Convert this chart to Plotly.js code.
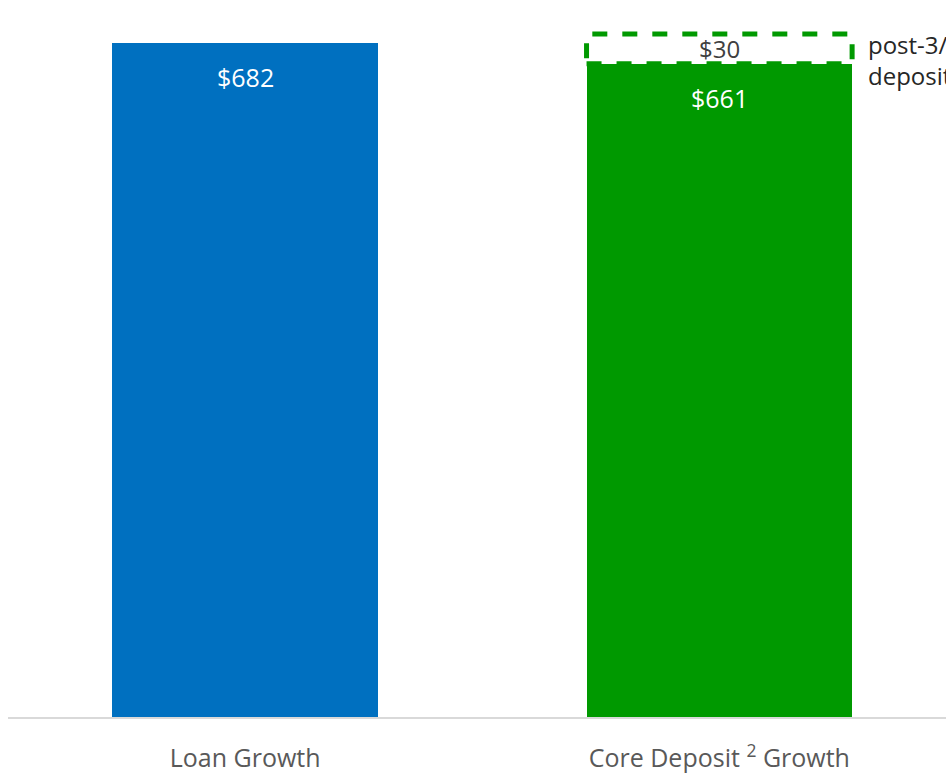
<!DOCTYPE html>
<html>
<head>
<meta charset="utf-8">
<script src="https://cdn.plot.ly/plotly-3.0.1.min.js"></script>
<style>html,body{margin:0;padding:0;background:#fff;overflow:hidden}#chart{width:946px;height:775px}</style>
</head>
<body>
<div id="chart"></div>
<script>
const categories = ["Loan Growth", "Core Deposit <sup>2</sup> Growth"];
const baseValues = [682, 661];
const addOnValues = [0, 30];
const baseLabels = ["$682", "$661"];
const addOnLabels = ["", "$30"];
const addOnNote = "post-3/10<br>deposits";
const barColors = ["#0070C0", "#009900"];

const barWidth = 0.56;
const font = "Open Sans, Noto Sans, sans-serif";

const traces = [
  {
    type: "bar",
    x: categories,
    y: baseValues,
    width: barWidth,
    marker: { color: barColors },
    hoverinfo: "skip"
  },
  {
    type: "bar",
    x: categories,
    y: addOnValues,
    width: barWidth,
    marker: { color: "rgba(255,255,255,0)" },
    hoverinfo: "skip"
  }
];

const annotations = [];
const shapes = [];
categories.forEach((c, i) => {
  annotations.push({
    x: i, y: baseValues[i], xref: "x", yref: "y",
    text: baseLabels[i], showarrow: false,
    yanchor: "middle", yshift: -34,
    font: { family: font, size: 25, color: "#ffffff" }
  });
  if (addOnValues[i] > 0) {
    const top = baseValues[i] + addOnValues[i];
    shapes.push({
      type: "rect", xref: "x", yref: "y",
      x0: i - barWidth / 2, x1: i + barWidth / 2,
      y0: baseValues[i], y1: top,
      line: { color: barColors[i], width: 5, dash: "dash" },
      fillcolor: "rgba(0,0,0,0)"
    });
    annotations.push({
      x: i, y: baseValues[i] + addOnValues[i] / 2, xref: "x", yref: "y",
      text: addOnLabels[i], showarrow: false,
      font: { family: font, size: 24, color: "#404040" }
    });
    annotations.push({
      x: i + barWidth / 2, y: top, xref: "x", yref: "y",
      text: addOnNote, showarrow: false, align: "left",
      xanchor: "left", yanchor: "top", xshift: 14, yshift: 8,
      font: { family: font, size: 24, color: "#262626" }
    });
  }
});

const layout = {
  width: 946, height: 775,
  margin: { l: 8, r: 0, t: 0, b: 58 },
  paper_bgcolor: "#ffffff", plot_bgcolor: "#ffffff",
  barmode: "stack",
  showlegend: false,
  xaxis: {
    type: "category",
    range: [-0.5, 1.478],
    showline: true, linecolor: "#D9D9D9", linewidth: 2,
    showgrid: false, zeroline: false,
    ticks: "", ticklabelstandoff: 18,
    tickfont: { family: font, size: 25, color: "#595959" }
  },
  yaxis: {
    range: [0, 725.5],
    visible: false, showgrid: false, zeroline: false
  },
  shapes: shapes,
  annotations: annotations
};

Plotly.newPlot("chart", traces, layout, { staticPlot: true, displayModeBar: false });
</script>
</body>
</html>
